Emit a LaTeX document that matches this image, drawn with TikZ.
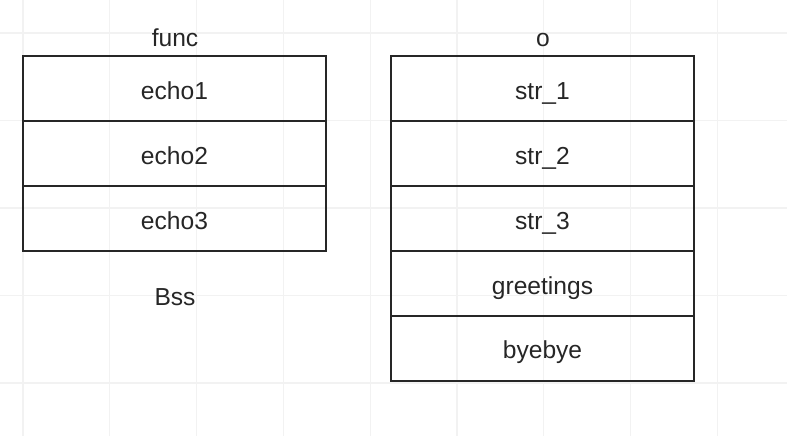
\documentclass[tikz,border=0pt]{standalone}
\usepackage{fontspec}
\setmainfont{Liberation Sans}
\usetikzlibrary{positioning}

\tikzset{
  cell/.style={draw=black!85, line width=1.1pt, outer sep=0pt, inner sep=0pt,
    minimum width=6.06cm, minimum height=1.3cm, text=black!85,
    text height=12pt, text depth=0pt,
    font=\fontsize{14}{16}\selectfont},
  title/.style={text=black!85, font=\fontsize{14}{16}\selectfont},
  gridline/.style={black!5, line width=0.6pt}
}

\begin{document}
\begin{tikzpicture}[x=0.02cm,y=-0.02cm]
  \useasboundingbox (0,0) rectangle (787,436);

  % faint background grid
  \foreach \gx in {0,...,8}
    \draw[gridline] (23+86.8*\gx,0) -- (23+86.8*\gx,436);
  \foreach \gy in {0,...,4}
    \draw[gridline] (0,33+87.5*\gy) -- (787,33+87.5*\gy);

  % func table
  \node[cell] (echo1) at (174.5,88.5) {echo1};
  \node[cell, below=0pt of echo1] (echo2) {echo2};
  \node[cell, below=0pt of echo2] (echo3) {echo3};
  \node[title] (func) at (175,38) {func};
  \node[title] (bss) at (175,297) {Bss};

  % o table
  \node[cell] (str1) at (542.5,88.5) {str\_1};
  \node[cell, below=0pt of str1] (str2) {str\_2};
  \node[cell, below=0pt of str2] (str3) {str\_3};
  \node[cell, below=0pt of str3] (greet) {greetings};
  \node[cell, below=0pt of greet] (bye) {byebye};
  \node[title] (obj) at (543,40) {o};
\end{tikzpicture}
\end{document}
